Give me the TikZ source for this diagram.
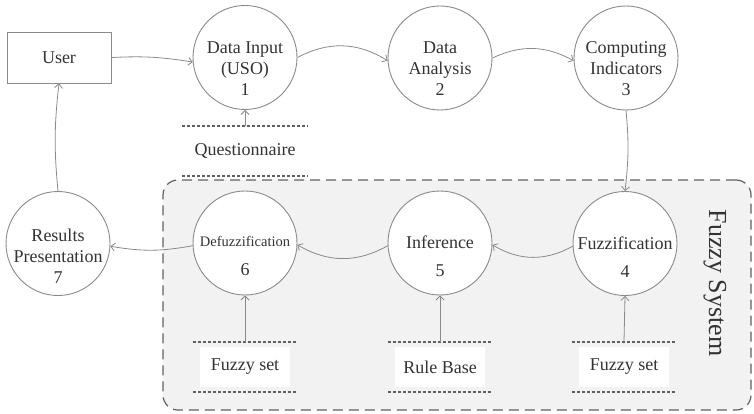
\documentclass[tikz,border=0pt]{standalone}
\usepackage{fontspec}
\setmainfont{Liberation Serif}
\usetikzlibrary{arrows.meta}
\definecolor{linegray}{HTML}{8A8A8A}
\definecolor{txtgray}{HTML}{333333}
\definecolor{regionfill}{HTML}{F2F2F2}
\definecolor{dashgray}{HTML}{606060}
\begin{document}
\begin{tikzpicture}[x=1pt,y=1pt,
 proc/.style={circle,draw=linegray,line width=0.9pt,fill=white,minimum size=104pt,inner sep=0pt},
 lbl/.style={align=center,text=txtgray,font=\fontsize{18}{21}\selectfont,inner sep=0pt},
 arr/.style={draw=linegray,line width=0.8pt,-{Straight Barb[length=4pt,width=8pt]}},
 storebox/.style={fill=white,minimum width=90pt,minimum height=40pt,inner sep=0pt,text=txtgray,font=\fontsize{18}{21}\selectfont},
 storeline/.style={draw=dashgray,line width=1.6pt,dash pattern=on 3pt off 2pt},
 userbox/.style={draw=linegray,line width=0.9pt,minimum width=104pt,minimum height=51pt,inner sep=0pt,text=txtgray,font=\fontsize{18}{21}\selectfont},
]
\useasboundingbox (0,0) rectangle (754,413);
% fuzzy system region
\node[draw=dashgray,line width=1.2pt,dash pattern=on 10pt off 6pt,fill=regionfill,rounded corners=15pt,minimum width=588pt,minimum height=230pt,inner sep=0pt] (fz) at (457,118) {};
\node[rotate=-90,text=txtgray,font=\fontsize{26}{30}\selectfont] (fzlabel) at (715,130) {Fuzzy System};

% user
\node[userbox] (user) at (59,355.5) {User};

% process circles
\node[proc] (c1) at (245,355.5) {};
\node[proc] (c2) at (440,355) {};
\node[proc] (c3) at (626,355) {};
\node[proc] (c4) at (625,169.5) {};
\node[proc] (c5) at (440,170) {};
\node[proc] (c6) at (245,170) {};
\node[proc] (c7) at (58,169.5) {};

\node[lbl] (t1) at (245,344.5) {Data Input\\(USO)\\1};
\node[lbl] (t2) at (440,344) {Data\\Analysis\\2};
\node[lbl] (t3) at (626,344) {Computing\\Indicators\\3};
\node[lbl] (t4) at (625,156) {Fuzzification\\[7pt]4};
\node[lbl] (t5) at (440,156.5) {Inference\\[7pt]5};
\node[lbl] (t6) at (245,157) {{\fontsize{14.5}{17}\selectfont Defuzzification}\\[8pt]6};
\node[lbl] (t7) at (58,157) {Results\\Presentation\\7};

% stores
\node[storebox,minimum width=111pt] (s1) at (245,262) {Questionnaire};
\node[storebox] (s6) at (245,46) {Fuzzy set};
\node[storebox] (s5) at (440,46) {Rule Base};
\node[storebox] (s4) at (624,46) {Fuzzy set};
\foreach \s in {s1,s6,s5,s4}{
  \draw[storeline] ([shift={(-7pt,5pt)}]\s.north west) -- ([shift={(7pt,5pt)}]\s.north east);
  \draw[storeline] ([shift={(-7pt,-5pt)}]\s.south west) -- ([shift={(7pt,-5pt)}]\s.south east);
}

% connectors
\draw[arr] (user.east) to[bend left=6] (c1.185);
\draw[arr] (c1.east) to[bend left=30] (c2.183);
\draw[arr] (c2.east) to[bend left=27] (c3.183);
\draw[arr] (c3.south) to[bend left=6] (c4.north);
\draw[arr] (c4.183) to[bend left=30] (c5.358);
\draw[arr] (c5.183) to[bend left=30] (c6.358);
\draw[arr] (c6.183) to[bend left=10] (c7.357);
\draw[arr] (c7.north) to[bend left=6] (user.south);
\draw[arr] ([yshift=5pt]s1.north) -- (c1.south);
\draw[arr] ([yshift=5pt]s6.north) -- (c6.south);
\draw[arr] ([yshift=5pt]s5.north) -- (c5.south);
\draw[arr] ([yshift=5pt]s4.north) -- (c4.south);
\end{tikzpicture}
\end{document}
